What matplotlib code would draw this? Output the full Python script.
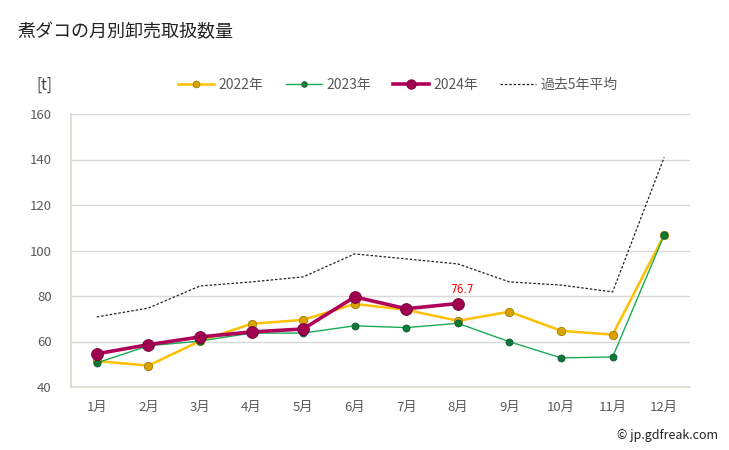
import matplotlib
matplotlib.use("Agg")
import matplotlib.pyplot as plt

plt.rcParams['font.family'] = ['Noto Sans CJK JP', 'DejaVu Sans']

months = ['1月', '2月', '3月', '4月', '5月', '6月', '7月', '8月', '9月', '10月', '11月', '12月']
y2022 = [51.4, 49.4, 60.2, 67.8, 69.5, 76.5, 73.9, 69.1, 73.1, 64.7, 63.0, 106.8]
y2023 = [50.6, 58.1, 60.2, 63.7, 63.7, 66.9, 66.1, 68.0, 59.9, 52.8, 53.2, 106.8]
y2024 = [54.6, 58.6, 62.0, 64.2, 65.5, 79.6, 74.4, 76.7]
yavg = [70.8, 74.7, 84.4, 86.2, 88.4, 98.5, 96.3, 94.1, 86.2, 84.8, 81.8, 141.0]
yticks = [40, 60, 80, 100, 120, 140, 160]

fig = plt.figure(figsize=(7.29, 4.5), dpi=100)
ax = fig.add_axes([71/729, 1-387/450, (690-71)/729, (387-114)/450])

x = list(range(1, 13))
ax.plot(x, yavg, color='#222222', lw=0.9, ls=(0, (2, 1.5)), label='過去5年平均', zorder=2)
ax.plot(x, y2022, color='#FFC000', lw=1.8, marker='o', ms=6, mfc='#D9A400', mec='#A07800', mew=0.6, label='2022年', zorder=3)
ax.plot(x, y2023, color='#1AAA55', lw=1.0, marker='o', ms=5, mfc='#0E7A3A', mec='#0A5A2A', mew=0.6, label='2023年', zorder=4)
x24 = x[:len(y2024)]
ax.plot(x24, y2024, color='#B0005A', lw=2.6, marker='o', ms=8.5, mfc='#A0004E', mec='#70003A', mew=0.6, label='2024年', zorder=5)

ax.annotate(f'{y2024[-1]}', xy=(x24[-1], y2024[-1]), xytext=(x24[-1] + 0.08, y2024[-1] + 3.5),
            color='red', fontsize=8.5, ha='center', va='bottom', fontfamily='DejaVu Sans',
            fontstretch='condensed',
            arrowprops=dict(arrowstyle='-', color='#BBBBBB', lw=0.6, shrinkA=0, shrinkB=3))

ax.set_xlim(0.5, 12.5)
ax.set_ylim(40, 160)
ax.set_yticks(yticks)
ax.set_xticks(x)
ax.set_xticklabels(months)
ax.grid(axis='y', color='#D9D9D9', lw=1)
ax.set_axisbelow(True)
for s in ['top', 'right']:
    ax.spines[s].set_visible(False)
for s in ['left', 'bottom']:
    ax.spines[s].set_color('#D9D9CC')
    ax.spines[s].set_linewidth(1.2)
ax.tick_params(length=0, colors='#595959', labelsize=9.5, pad=10)
ax.tick_params(axis='y', pad=14)

handles, labels = ax.get_legend_handles_labels()
order = [1, 2, 3, 0]
leg = fig.legend([handles[i] for i in order], [labels[i] for i in order],
                 loc='center', bbox_to_anchor=(398/729, 1-85/450), ncol=4, frameon=False,
                 fontsize=10, handlelength=2.6, columnspacing=1.6, handletextpad=0.3,
                 markerscale=0.8)
for t in leg.get_texts():
    t.set_color('#595959')

fig.text(18/729, 1-32/450, '煮ダコの月別卸売取扱数量', fontsize=13, color='#222222', va='center', ha='left')
fig.text(36/729, 1-85/450, '[t]', fontsize=11, color='#404040', va='center', ha='left')
fig.text(718/729, 1-436/450, '© jp.gdfreak.com', fontsize=9, color='#222222', va='center', ha='right')

fig.savefig('out.png', dpi=100)
